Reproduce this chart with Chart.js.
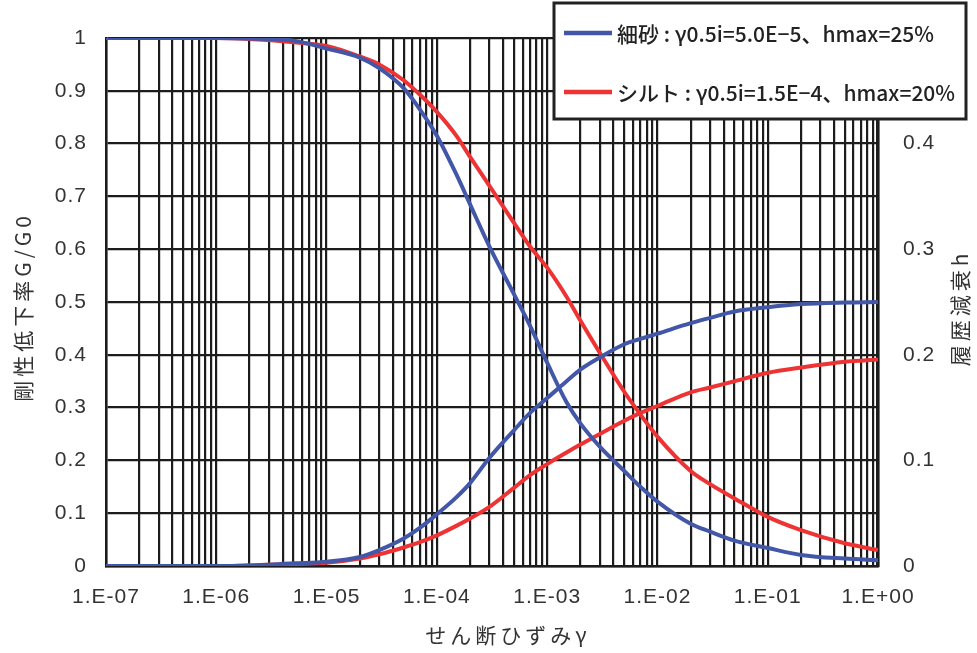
<!DOCTYPE html>
<html>
<head>
<meta charset="utf-8">
<script src="https://cdn.jsdelivr.net/npm/chart.js@4.4.1/dist/chart.umd.min.js"></script>
<style>
  html, body { margin: 0; padding: 0; background: #fff; }
  #wrap { width: 977px; height: 653px; position: relative; }
</style>
</head>
<body>
<div id="wrap"><canvas id="chart" width="977" height="653"></canvas></div>
<script>
// shear strain (x)
const gamma = [1e-7, 1e-6, 2e-6, 5e-6, 1e-5, 2e-5, 3e-5, 5e-5, 7e-5, 1e-4, 1.5e-4, 2e-4, 3e-4, 5e-4, 7e-4,
  1e-3, 1.5e-3, 2e-3, 3e-3, 5e-3, 7e-3, 1e-2, 2e-2, 3e-2, 5e-2, 1e-1, 2e-1, 5e-1, 1];

// 細砂
const sandG = [1, 1, 0.999, 0.995, 0.98, 0.963, 0.943, 0.905, 0.865, 0.815, 0.742, 0.685, 0.605, 0.515, 0.455,
  0.385, 0.31, 0.27, 0.226, 0.18, 0.15, 0.122, 0.08, 0.065, 0.048, 0.034, 0.021, 0.014, 0.011];
const sandH = [0, 0, 0.0005, 0.0025, 0.004, 0.0085, 0.015, 0.026, 0.036, 0.049, 0.065, 0.0785, 0.1025, 0.1285, 0.145,
  0.159, 0.175, 0.186, 0.1975, 0.21, 0.215, 0.22, 0.23, 0.235, 0.241, 0.245, 0.248, 0.2495, 0.25];

// シルト
const siltG = [1, 1, 0.998, 0.992, 0.985, 0.965, 0.95, 0.92, 0.893, 0.86, 0.815, 0.775, 0.72, 0.65, 0.605,
  0.565, 0.51, 0.465, 0.404, 0.33, 0.287, 0.245, 0.18, 0.155, 0.128, 0.093, 0.068, 0.043, 0.03];
const siltH = [0, 0, 0.0005, 0.002, 0.003, 0.007, 0.011, 0.0175, 0.0225, 0.029, 0.038, 0.045, 0.056, 0.074, 0.086,
  0.0965, 0.1075, 0.115, 0.125, 0.1375, 0.145, 0.1515, 0.1645, 0.169, 0.175, 0.183, 0.188, 0.1935, 0.1955];

const seriesNames = ['細砂 : γ0.5i=5.0E−5、hmax=25%', 'シルト : γ0.5i=1.5E−4、hmax=20%'];
const seriesColors = ['#4257a8', '#ee3334'];

const xTickLabels = ['1.E-07', '1.E-06', '1.E-05', '1.E-04', '1.E-03', '1.E-02', '1.E-01', '1.E+00'];
const xTitle = 'せん断ひずみγ';
const yLeftTitle = '剛性低下率G/G0';
const yRightTitle = '履歴減衰h';

const FONT = '"Liberation Sans", "Noto Sans CJK JP", sans-serif';
const JFONT = '"Noto Sans CJK JP", "Liberation Sans", sans-serif';

function pts(ys) {
  return gamma.map((g, i) => ({ x: g, y: ys[i] }));
}

function line(data, color, axis) {
  return {
    data: pts(data),
    yAxisID: axis,
    borderColor: color,
    borderWidth: 4,
    pointRadius: 0,
    showLine: true,
    fill: false,
    cubicInterpolationMode: 'monotone'
  };
}

// axis titles with wide spacing, and the boxed legend
const extras = {
  id: 'extras',
  beforeDraw(chart) {
    chart.ctx.letterSpacing = '1px';
  },
  afterDraw(chart) {
    const ctx = chart.ctx;
    const title = (text, x, y, rot) => {
      ctx.save();
      ctx.letterSpacing = '4px';
      ctx.fillStyle = '#333';
      ctx.font = '21px ' + JFONT;
      ctx.textAlign = 'center';
      ctx.textBaseline = 'middle';
      ctx.translate(x, y);
      ctx.rotate(rot);
      ctx.fillText(text, 2, 0);
      ctx.restore();
    };
    title(yLeftTitle, 23, 309, -Math.PI / 2);
    title(yRightTitle, 960, 310, -Math.PI / 2);
    title(xTitle, 506, 635, 0);

    ctx.save();
    ctx.fillStyle = '#fff';
    ctx.fillRect(554, 3, 412, 116);
    ctx.strokeStyle = '#222';
    ctx.lineWidth = 3;
    ctx.strokeRect(554, 3, 412, 116);
    const rows = [33, 92];
    seriesNames.forEach((name, i) => {
      ctx.strokeStyle = seriesColors[i];
      ctx.lineWidth = 4.5;
      ctx.beginPath();
      ctx.moveTo(564, rows[i]);
      ctx.lineTo(612, rows[i]);
      ctx.stroke();
      ctx.letterSpacing = '0px';
      ctx.fillStyle = '#222';
      ctx.font = '500 21px ' + JFONT;
      ctx.textAlign = 'left';
      ctx.textBaseline = 'middle';
      ctx.fillText(name, 617, rows[i] + 1);
    });
    ctx.restore();
  }
};

const minorTicks = [];
for (let e = -7; e <= 0; e++) {
  for (let m = 1; m <= 9; m++) {
    const v = m * Math.pow(10, e);
    if (v <= 1.0000001) minorTicks.push(v);
  }
}

new Chart(document.getElementById('chart'), {
  type: 'scatter',
  data: {
    datasets: [
      line(sandG, seriesColors[0], 'yL'),
      line(sandH, seriesColors[0], 'yR'),
      line(siltG, seriesColors[1], 'yL'),
      line(siltH, seriesColors[1], 'yR')
    ]
  },
  options: {
    responsive: false,
    animation: false,
    layout: { padding: { top: 38, left: 0, right: 0, bottom: 0 } },
    plugins: { legend: { display: false }, tooltip: { enabled: false } },
    scales: {
      x: {
        type: 'logarithmic',
        min: 1e-7,
        max: 1,
        afterBuildTicks(axis) {
          axis.ticks = minorTicks.map(v => ({ value: v }));
        },
        afterFit(axis) { axis.height = 87; },
        grid: { color: '#1c1c1c', lineWidth: 2.2, drawTicks: false },
        border: { color: '#1c1c1c', width: 2.5 },
        ticks: {
          autoSkip: false,
          maxRotation: 0,
          padding: 19,
          color: '#333',
          font: { family: FONT, size: 21 },
          callback(v) {
            const l = Math.log10(v);
            if (Math.abs(l - Math.round(l)) > 1e-6) return '';
            return xTickLabels[Math.round(l) + 7];
          }
        }
      },
      yL: {
        position: 'left',
        min: 0,
        max: 1,
        afterFit(axis) { axis.width = 106; },
        grid: { color: '#1c1c1c', lineWidth: 2.2, drawTicks: false },
        border: { color: '#1c1c1c', width: 2.5 },
        ticks: {
          stepSize: 0.1,
          padding: 19,
          color: '#333',
          font: { family: FONT, size: 21 },
          callback: v => String(Math.round(v * 10) / 10)
        }
      },
      yR: {
        position: 'right',
        min: 0,
        max: 0.5,
        afterFit(axis) { axis.width = 99; },
        grid: { display: false },
        border: { color: '#1c1c1c', width: 3.5 },
        ticks: {
          stepSize: 0.1,
          padding: 17,
          color: '#333',
          font: { family: FONT, size: 21 },
          callback: v => String(Math.round(v * 10) / 10)
        }
      }
    }
  },
  plugins: [extras]
});
</script>
</body>
</html>
